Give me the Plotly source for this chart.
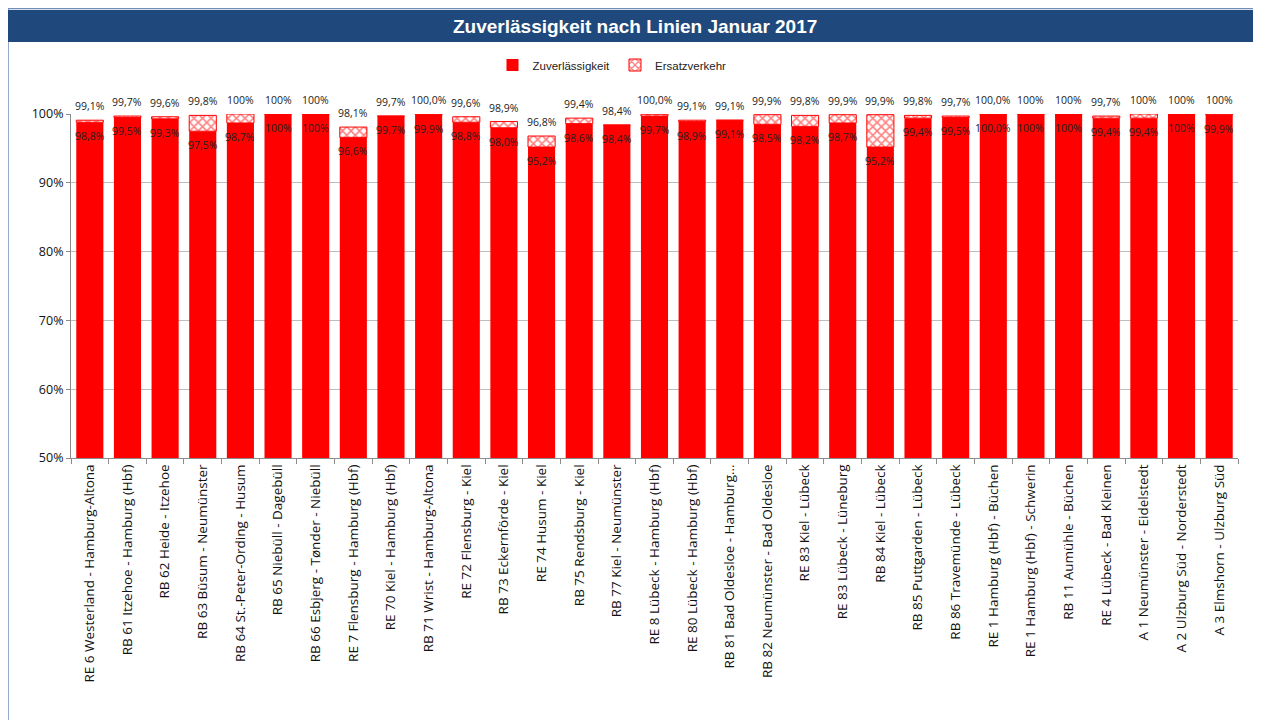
import plotly.graph_objects as go

categories = [
    "RE 6 Westerland - Hamburg-Altona",
    "RB 61 Itzehoe - Hamburg (Hbf)",
    "RB 62 Heide - Itzehoe",
    "RB 63 Büsum - Neumünster",
    "RB 64 St.-Peter-Ording - Husum",
    "RB 65 Niebüll - Dagebüll",
    "RB 66 Esbjerg - Tønder - Niebüll",
    "RE 7 Flensburg - Hamburg (Hbf)",
    "RE 70 Kiel - Hamburg (Hbf)",
    "RB 71 Wrist - Hamburg-Altona",
    "RE 72 Flensburg - Kiel",
    "RB 73 Eckernförde - Kiel",
    "RE 74 Husum - Kiel",
    "RB 75 Rendsburg - Kiel",
    "RB 77 Kiel - Neumünster",
    "RE 8 Lübeck - Hamburg (Hbf)",
    "RE 80 Lübeck - Hamburg (Hbf)",
    "RB 81 Bad Oldesloe - Hamburg...",
    "RB 82 Neumünster - Bad Oldesloe",
    "RE 83 Kiel - Lübeck",
    "RE 83 Lübeck - Lüneburg",
    "RB 84 Kiel - Lübeck",
    "RB 85 Puttgarden - Lübeck",
    "RB 86 Travemünde - Lübeck",
    "RE 1 Hamburg (Hbf) - Büchen",
    "RE 1 Hamburg (Hbf) - Schwerin",
    "RB 11 Aumühle - Büchen",
    "RE 4 Lübeck - Bad Kleinen",
    "A 1 Neumünster - Eidelstedt",
    "A 2 Ulzburg Süd - Norderstedt",
    "A 3 Elmshorn - Ulzburg Süd",
]

zuverlaessigkeit = [98.8, 99.5, 99.3, 97.5, 98.7, 100, 100, 96.6, 99.7, 99.9,
                    98.8, 98.0, 95.2, 98.6, 98.4, 99.7, 98.9, 99.1, 98.5, 98.2,
                    98.7, 95.2, 99.4, 99.5, 99.96, 100, 100, 99.4, 99.4, 100, 99.9]

ersatzverkehr = [0.3, 0.2, 0.3, 2.3, 1.3, 0, 0, 1.5, 0, 0.06,
                 0.8, 0.9, 1.6, 0.8, 0, 0.26, 0.2, 0, 1.4, 1.6,
                 1.2, 4.7, 0.4, 0.2, 0, 0, 0, 0.3, 0.6, 0, 0.1]

y_ticks = [50, 60, 70, 80, 90, 100]
y_ticktext = ["50%", "60%", "70%", "80%", "90%", "100%"]

gesamt = [round(a + b, 2) for a, b in zip(zuverlaessigkeit, ersatzverkehr)]


def fmt(v):
    v = round(v, 2)
    if v >= 100:
        return "100%"
    return f"{v:.1f}".replace(".", ",") + "%"


# page offset (body margin of the html page)
OFF = 8
W, H = 1261 - OFF, 720 - OFF
# plot area in page pixels
PL, PR, PT, PB = 71, 1238, 114, 458
L, R, T, B = PL - OFF, PR - OFF, PT - OFF, PB - OFF


def xp(p):
    return (p - PL) / (PR - PL)


def yp(p):
    return (PB - p) / (PB - PT)


TITLE = "Liberation Sans, Arial, sans-serif"
LABEL = "Open Sans, Noto Sans, sans-serif"

fig = go.Figure()
fig.add_trace(go.Bar(
    x=categories, y=zuverlaessigkeit, name="Zuverlässigkeit",
    marker=dict(color="#FF0000", line=dict(width=0)),
    hoverinfo="skip",
))
fig.add_trace(go.Bar(
    x=categories, y=ersatzverkehr, name="Ersatzverkehr",
    base=zuverlaessigkeit,
    marker=dict(color="#FFFFFF", line=dict(color="#FF0000", width=1),
                pattern=dict(shape="x", fgcolor="#FF0000", bgcolor="#FFFFFF",
                             size=6, solidity=0.45)),
    hoverinfo="skip",
))

annotations = []
for c, z, g in zip(categories, zuverlaessigkeit, gesamt):
    annotations.append(dict(x=c, y=z, xref="x", yref="y", text=fmt(z),
                            showarrow=False, yshift=-14, yanchor="middle",
                            font=dict(family=LABEL, size=10.5, color="#222222")))
    annotations.append(dict(x=c, y=g, xref="x", yref="y", text=fmt(g),
                            showarrow=False, yshift=14, yanchor="middle",
                            font=dict(family=LABEL, size=10.5, color="#222222")))

annotations.append(dict(x=xp(635), y=yp(26), xref="paper", yref="paper",
                        text="<b>Zuverlässigkeit nach Linien Januar 2017</b>",
                        showarrow=False, xanchor="center", yanchor="middle",
                        font=dict(family=TITLE, size=19, color="#FFFFFF")))

shapes = [
    dict(type="rect", xref="paper", yref="paper",
         x0=xp(8), x1=xp(1265), y0=yp(725), y1=yp(8.5),
         line=dict(color="#6F8DB9", width=1.5), fillcolor="rgba(0,0,0,0)",
         layer="below"),
    dict(type="rect", xref="paper", yref="paper",
         x0=xp(8), x1=xp(1265), y0=yp(42), y1=yp(10),
         line=dict(width=0), fillcolor="#1F497D", layer="below"),
]

fig.update_layout(
    width=W, height=H,
    margin=dict(l=L, r=W - R, t=T, b=H - B, autoexpand=False),
    paper_bgcolor="#FFFFFF", plot_bgcolor="#FFFFFF",
    barmode="overlay", bargap=0.28,
    showlegend=True,
    legend=dict(orientation="h", x=xp(612), xanchor="center", y=yp(65),
                yanchor="middle", font=dict(family=TITLE, size=11.5, color="#222222"),
                itemwidth=30, traceorder="normal"),
    annotations=annotations,
    shapes=shapes,
    xaxis=dict(
        type="category", tickangle=-90, automargin=False,
        tickfont=dict(family=LABEL, size=13.5, color="#111111"),
        showline=True, linecolor="#8C8C8C", linewidth=1,
        ticks="outside", tickson="boundaries", ticklen=5, tickcolor="#8C8C8C",
        showgrid=False, fixedrange=True,
    ),
    yaxis=dict(
        range=[50, 100], tickvals=y_ticks, ticktext=y_ticktext, automargin=False,
        tickfont=dict(family=LABEL, size=12.5, color="#111111"),
        showline=True, linecolor="#8C8C8C", linewidth=1,
        ticks="outside", ticklen=4, tickcolor="#8C8C8C",
        showgrid=True, gridcolor="#BDBDBD", gridwidth=1,
        zeroline=False, fixedrange=True,
    ),
)

fig.write_html("out.html")
